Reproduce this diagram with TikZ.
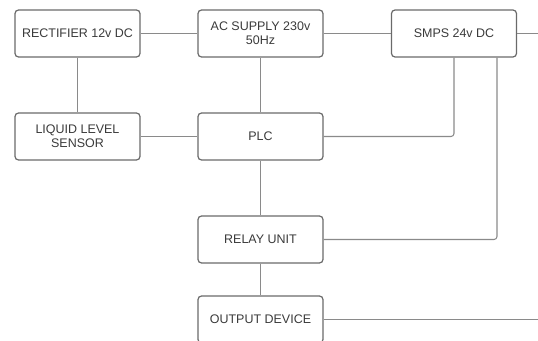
\documentclass[tikz,border=0pt]{standalone}
\usepackage{fontspec}
\setmainfont{Liberation Sans}
\usepackage{tikz}

\definecolor{boxgray}{HTML}{6A6A6A}
\definecolor{wiregray}{HTML}{8A8A8A}
\definecolor{txtgray}{HTML}{3A3A3A}

\begin{document}
\begin{tikzpicture}[x=0.02cm,y=-0.02cm,
  blk/.style={draw=boxgray,line width=0.7pt,rounded corners=0.07cm,minimum width=2.5cm,minimum height=0.94cm,inner sep=1pt,align=center,text=txtgray,font=\fontsize{7.1}{8.2}\selectfont},
  wire/.style={draw=wiregray,line width=0.6pt,rounded corners=0.06cm}]
\useasboundingbox (0,0) rectangle (538,341);
\clip (0,0) rectangle (538,341);
% blocks
\node[blk] (rect) at (77.5,33.5) {RECTIFIER 12v DC};
\node[blk] (ac) at (260.5,33.5) {AC SUPPLY 230v\\50Hz};
\node[blk] (smps) at (454,33.5) {SMPS 24v DC};
\node[blk] (liq) at (77.5,136.5) {LIQUID LEVEL\\SENSOR};
\node[blk] (plc) at (260.5,136.5) {PLC};
\node[blk] (relay) at (260.5,239.5) {RELAY UNIT};
\node[blk] (out) at (260.5,319.5) {OUTPUT DEVICE};
\coordinate (edgetop) at (538,33.5);
\coordinate (edgeout) at (538,319.5);
% wiring
\draw[wire] (rect) -- (ac);
\draw[wire] (ac) -- (smps);
\draw[wire] (smps) -- (edgetop);
\draw[wire] (rect) -- (liq);
\draw[wire] (ac) -- (plc);
\draw[wire] (liq) -- (plc);
\draw[wire] (smps.south) |- (plc.east);
\draw[wire] ([xshift=0.86cm]smps.south) |- (relay.east);
\draw[wire] (plc) -- (relay);
\draw[wire] (relay) -- (out);
\draw[wire] (out) -- (edgeout);
\end{tikzpicture}
\end{document}
